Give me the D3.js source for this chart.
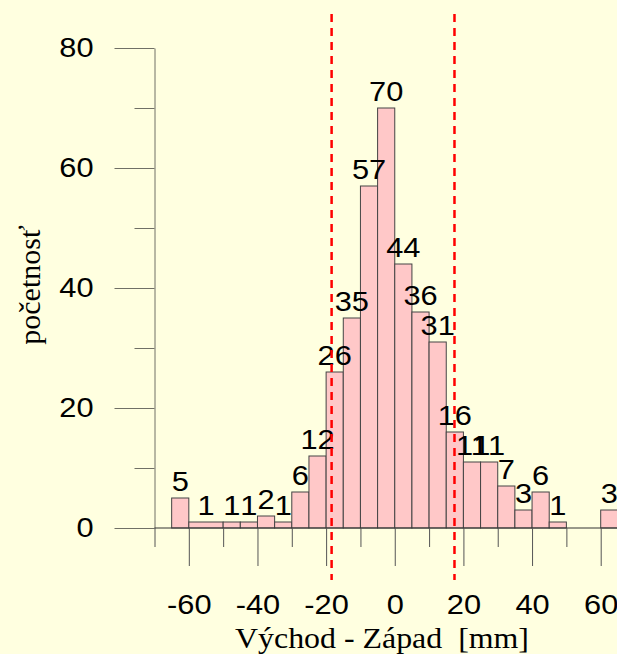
<!DOCTYPE html>
<html>
<head>
<meta charset="utf-8">
<script src="https://cdn.jsdelivr.net/npm/d3@7"></script>
<style>
  body { margin: 0; background: #FFFFE0; }
  svg { display: block; }
</style>
</head>
<body>
<svg id="chart" width="617" height="654"></svg>
<script>
// histogram bins (mm) and counts
const binLo  = [-65, -60, -50, -45, -40, -35, -30, -25, -20, -15, -10, -5, 0, 5, 10, 15, 20, 25, 30, 35, 40, 45, 60];
const binHi  = [-60, -50, -45, -40, -35, -30, -25, -20, -15, -10, -5, 0, 5, 10, 15, 20, 25, 30, 35, 40, 45, 50, 65];
const counts = [5, 1, 1, 1, 2, 1, 6, 12, 26, 35, 57, 70, 44, 36, 31, 16, 11, 11, 7, 3, 6, 1, 3];

// dashed reference lines
const refLines = [-18.4, 17.4];

const xMajor = [-60, -40, -20, 0, 20, 40, 60];
const xMinor = [-70, -50, -30, -10, 10, 30, 50];
const yMajor = [0, 20, 40, 60, 80];
const yMinor = [10, 30, 50, 70];

const xTitle = "Východ - Západ  [mm]";
const yTitle = "početnosť";

const W = 617, H = 654;
const sans = "'Liberation Sans', Arial, sans-serif";
const serif = "'Liberation Serif', 'Times New Roman', serif";
const stretch = 1.1; // text in the picture is a bit wide

const svg = d3.select("#chart");

svg.append("rect")
    .attr("width", W).attr("height", H)
    .attr("fill", "#FFFFE0");

const x = d3.scaleLinear().domain([-70, 60]).range([154.5, 600.7]);
const y = d3.scaleLinear().domain([0, 80]).range([528, 48]);

const bins = binLo.map((lo, i) => ({lo: lo, hi: binHi[i], n: counts[i]}));

// bars
svg.append("g")
  .selectAll("rect")
  .data(bins)
  .join("rect")
    .attr("x", d => x(d.lo))
    .attr("y", d => y(d.n))
    .attr("width", d => x(d.hi) - x(d.lo))
    .attr("height", d => y(0) - y(d.n))
    .attr("fill", "#FFC8C8")
    .attr("stroke", "#444")
    .attr("stroke-width", 1);

// y axis
const yg = svg.append("g")
    .attr("transform", "translate(" + x(-70) + ",0)")
    .call(d3.axisLeft(y).tickValues(yMajor).tickSize(40).tickPadding(21)
          .tickSizeOuter(0).tickFormat(d => String(d)))
    .attr("font-family", sans)
    .attr("font-size", 28);
yg.select(".domain").attr("stroke", "#707066");
yg.selectAll(".tick line").attr("stroke", "#707066");
yg.selectAll(".tick text")
    .attr("fill", "#000")
    .attr("x", -61 / stretch)
    .attr("transform", "scale(" + stretch + ",1)");

const ym = svg.append("g")
    .attr("transform", "translate(" + x(-70) + ",0)")
    .call(d3.axisLeft(y).tickValues(yMinor).tickSize(20).tickFormat(""));
ym.select(".domain").remove();
ym.selectAll(".tick line").attr("stroke", "#707066");

// baseline
svg.append("line")
    .attr("x1", x(-70)).attr("x2", W)
    .attr("y1", y(0)).attr("y2", y(0))
    .attr("stroke", "#333");

// x axis
const xg = svg.append("g")
    .attr("transform", "translate(0," + y(0) + ")")
    .call(d3.axisBottom(x).tickValues(xMajor).tickSize(38).tickPadding(28)
          .tickFormat(d => String(d)))
    .attr("font-family", sans)
    .attr("font-size", 28);
xg.select(".domain").remove();
xg.selectAll(".tick line").attr("stroke", "#555");
xg.selectAll(".tick text")
    .attr("fill", "#000")
    .attr("transform", "scale(" + stretch + ",1)");

const xm = svg.append("g")
    .attr("transform", "translate(0," + y(0) + ")")
    .call(d3.axisBottom(x).tickValues(xMinor).tickSize(19).tickFormat(""));
xm.select(".domain").remove();
xm.selectAll(".tick line").attr("stroke", "#555");

// bar labels
svg.append("g")
  .selectAll("text")
  .data(bins)
  .join("text")
    .attr("transform", d => "translate(" + x((d.lo + d.hi) / 2) + "," + (y(d.n) - 7) + ") scale(" + stretch + ",1)")
    .attr("text-anchor", "middle")
    .attr("font-family", sans)
    .attr("font-size", 28)
    .attr("fill", "#000")
    .text(d => d.n);

// dashed lines
svg.append("g")
  .selectAll("line")
  .data(refLines)
  .join("line")
    .attr("x1", d => x(d)).attr("x2", d => x(d))
    .attr("y1", 14).attr("y2", 580)
    .attr("stroke", "#FF0000")
    .attr("stroke-width", 2.5)
    .attr("stroke-dasharray", "8,6");

// titles
svg.append("text")
    .attr("transform", "translate(382,648) scale(" + stretch + ",1)")
    .attr("text-anchor", "middle")
    .attr("font-family", serif)
    .attr("font-size", 29)
    .attr("fill", "#000")
    .style("white-space", "pre")
    .text(xTitle);

svg.append("text")
    .attr("transform", "translate(40,285) rotate(-90)")
    .attr("text-anchor", "middle")
    .attr("font-family", serif)
    .attr("font-size", 30)
    .attr("fill", "#000")
    .text(yTitle);
</script>
</body>
</html>
